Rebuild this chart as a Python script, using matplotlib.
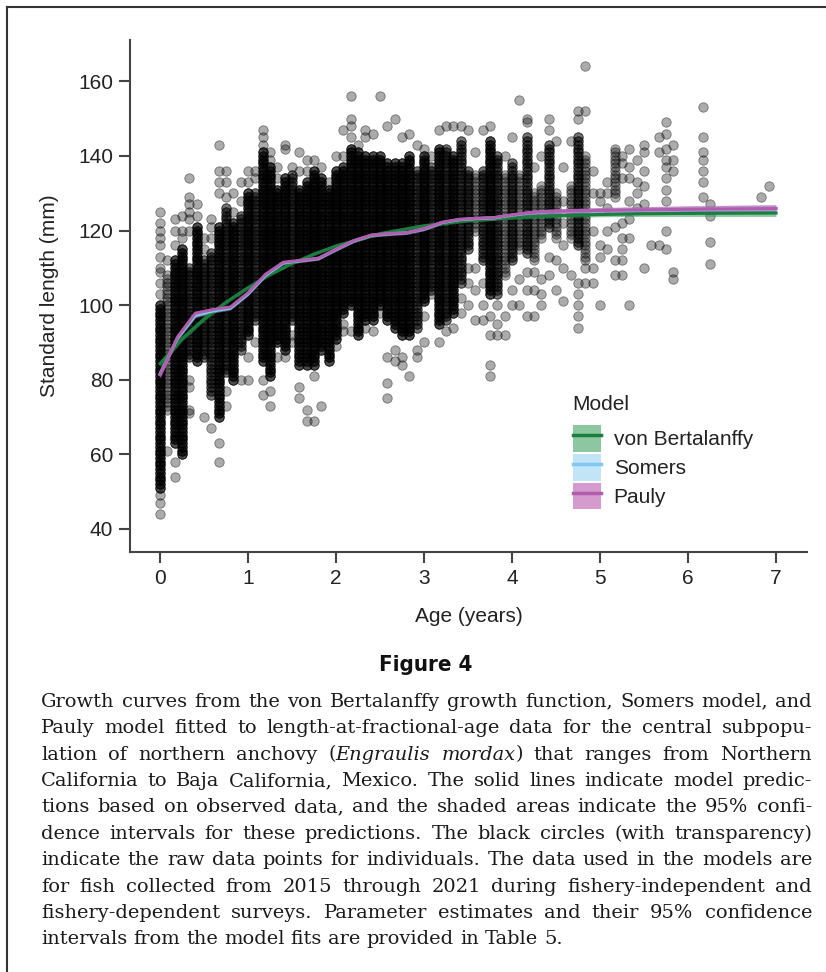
import numpy as np
import matplotlib
matplotlib.use("Agg")
import matplotlib.pyplot as plt
from matplotlib.patches import Patch
from matplotlib.lines import Line2D

plt.rcParams['font.family'] = ['Liberation Sans', 'DejaVu Sans']

W, H = 826, 972

# raw data: ages are whole months (k/12 years)
# dense part of each monthly column: lowest and highest length (mm), and how crowded it is
core_month = [0, 1, 2, 3, 4, 5, 6, 7, 8, 9, 10, 11, 12, 13, 14, 15, 16, 17, 18, 19,
              20, 21, 22, 23, 24, 25, 26, 27, 28, 29, 30, 31, 32, 33, 34, 35, 36, 37, 38, 39,
              40, 41, 42, 43, 44, 45, 46, 47, 48, 49, 50, 51, 52, 53, 54, 56, 57, 58, 62]
core_lo = [51, 72, 63, 60, 86, 85, 86, 76, 70, 82, 80, 88, 92, 96, 85, 81, 90, 88, 96, 84,
           84, 84, 88, 85, 91, 98, 100, 92, 96, 96, 100, 96, 94, 92, 92, 94, 101, 104, 95, 96,
           98, 106, 115, 120, 112, 103, 103, 108, 112, 115, 114, 112, 118, 121, 118, 118, 116, 112, 129]
core_hi = [100, 108, 112, 115, 110, 121, 112, 114, 121, 126, 122, 124, 130, 130, 141, 137, 131, 134, 135, 131,
           133, 136, 134, 131, 136, 137, 142, 141, 140, 140, 140, 138, 138, 138, 140, 136, 140, 137, 142, 142,
           140, 144, 136, 135, 136, 144, 140, 135, 138, 135, 145, 130, 132, 143, 130, 132, 145, 140, 142]
core_depth = [3, 1, 3, 3, 2, 3, 2, 2, 3, 2, 3, 2, 3, 2, 3, 3, 3, 3, 2, 3,
              3, 3, 3, 3, 3, 3, 3, 3, 3, 3, 3, 3, 3, 3, 3, 2, 3, 2, 3, 2,
              3, 2, 2, 1, 2, 3, 2, 1, 2, 1, 2, 1, 1, 2, 1, 1, 2, 1, 1]

# isolated fish outside the dense parts, by month
outliers = {
    0: [49, 47, 44, 103, 106, 109, 110, 113, 116, 118, 120, 122, 125],
    1: [61, 112], 2: [58, 54, 116, 120, 123], 3: [118, 120, 124],
    4: [120, 123, 125, 127, 129, 134, 80, 78, 72, 71], 5: [124, 127],
    6: [115, 118, 70], 7: [118, 121, 123, 67], 8: [130, 133, 136, 143, 63, 58],
    9: [129, 133, 136, 77, 73], 10: [125, 130], 11: [128, 133, 80],
    12: [133, 136, 86, 80], 13: [134, 136, 90], 14: [143, 145, 147, 80, 76],
    15: [139, 141, 77, 73], 16: [134, 137, 86], 17: [142, 143, 86],
    18: [137, 90, 92], 19: [136, 141, 78, 75], 20: [136, 139, 72, 69],
    21: [139, 81, 69], 22: [137, 73], 23: [133], 24: [140, 89],
    25: [140, 147, 93, 95], 26: [145, 148, 150, 156, 93], 27: [143],
    28: [145, 147, 94], 29: [146, 93], 30: [156, 98], 31: [148, 86, 79, 75],
    32: [150, 88, 85], 33: [145, 86, 84], 34: [146, 81], 35: [143, 88, 86],
    36: [142, 97, 90], 37: [140, 103], 38: [147, 90], 39: [148, 93],
    40: [148, 94], 41: [148, 102, 98], 42: [147, 110, 106, 100],
    43: [141, 110, 104, 96], 44: [147, 106, 100, 96], 45: [148, 97, 92, 84, 81],
    46: [100, 95, 92], 47: [140, 97, 92], 48: [145, 104, 100], 49: [155, 107, 100],
    50: [150, 149, 109, 104, 97], 51: [137, 109, 104, 97], 52: [140, 107, 103, 100],
    53: [150, 147, 113, 108], 54: [144, 112, 104], 55: [137, 128, 122, 116, 110, 101],
    56: [144, 108], 57: [152, 150, 106, 103, 100, 97, 94], 58: [164, 152, 110, 106],
    59: [136, 130, 120, 110, 106], 60: [130, 128, 116, 113, 100],
    61: [133, 130, 126, 120, 115], 62: [121, 112, 108],
    63: [140, 138, 134, 122, 118, 115, 112, 108], 64: [142, 137, 134, 128, 123, 118, 100],
    65: [139, 133, 130, 126], 66: [143, 141, 136, 132, 127, 110], 67: [116],
    68: [145, 141, 116], 69: [149, 146, 142, 139, 137, 134, 131, 128, 120, 115],
    70: [143, 139, 136, 109, 107], 74: [153, 145, 141, 139, 136, 133, 129],
    75: [127, 124, 117, 111], 82: [129], 83: [132],
}

# model predictions
vb_age = [0, 0.25, 0.5, 0.75, 1, 1.25, 1.5, 1.75, 2, 2.5, 3, 3.5, 4, 4.5, 5, 5.5, 6, 6.5, 7]
vb_len = [84.3, 91.0, 96.3, 100.8, 104.7, 108.2, 111.2, 113.7, 115.9, 119.2, 121.3, 122.7,
          123.5, 124.0, 124.3, 124.5, 124.6, 124.65, 124.7]
vb_ci = [0.9, 0.7, 0.6, 0.5, 0.45, 0.4, 0.4, 0.4, 0.4, 0.4, 0.4, 0.45, 0.5, 0.55, 0.6, 0.7, 0.8, 0.85, 0.9]

sp_age = [0, 0.2, 0.4, 0.6, 0.8, 1.0, 1.2, 1.4, 1.6, 1.8, 2.0, 2.2, 2.4, 2.6, 2.8, 3.0,
          3.2, 3.4, 3.6, 3.8, 4.0, 4.2, 4.4, 5.0, 6.0, 7.0]
somers_len = [81.6, 91.2, 97.2, 98.4, 99.2, 103.0, 108.0, 111.3, 111.9, 112.5, 114.9, 117.2,
              118.7, 119.1, 119.4, 120.4, 122.1, 122.9, 123.2, 123.4, 124.1, 124.7, 125.0,
              125.3, 125.6, 125.8]
pauly_len = [81.3, 91.5, 97.8, 98.8, 99.5, 103.3, 108.3, 111.5, 112.0, 112.6, 115.0, 117.3,
             118.8, 119.2, 119.4, 120.5, 122.2, 123.0, 123.3, 123.5, 124.2, 124.8, 125.1,
             125.4, 125.7, 125.9]
sp_ci = [1.0, 0.7, 0.6, 0.5, 0.5, 0.5, 0.45, 0.45, 0.45, 0.45, 0.45, 0.45, 0.45, 0.45, 0.45,
         0.45, 0.5, 0.5, 0.5, 0.55, 0.6, 0.65, 0.7, 0.8, 0.95, 1.05]

models = ['von Bertalanffy', 'Somers', 'Pauly']
line_cols = ['#1b7d3e', '#80c8ee', '#b25cad']
fill_cols = ['#2f9a57', '#8fd0f0', '#b44aa6']

fig = plt.figure(figsize=(W / 100, H / 100), dpi=100)
ax = fig.add_axes([130 / W, 1 - 552 / H, 677 / W, 512 / H])

xs, ys = [], []
for m, lo, hi, d in zip(core_month, core_lo, core_hi, core_depth):
    L = np.arange(lo, hi + 1)
    xs += [m / 12] * (len(L) * d)
    ys += list(np.tile(L, d))
for m, vals in outliers.items():
    xs += [m / 12] * len(vals)
    ys += vals
ax.scatter(xs, ys, s=46, facecolor=(0, 0, 0, 0.33), edgecolor=(0, 0, 0, 0.45),
           linewidth=0.6, zorder=2)

vb = np.array(vb_len); vbc = np.array(vb_ci)
som = np.array(somers_len); pau = np.array(pauly_len); spc = np.array(sp_ci)
ax.fill_between(vb_age, vb - vbc, vb + vbc, color=fill_cols[0], alpha=0.55, lw=0, zorder=3)
ax.fill_between(sp_age, som - spc, som + spc, color=fill_cols[1], alpha=0.5, lw=0, zorder=3)
ax.fill_between(sp_age, pau - spc, pau + spc, color=fill_cols[2], alpha=0.55, lw=0, zorder=3)
ax.plot(vb_age, vb, color=line_cols[0], lw=2.2, zorder=4)
ax.plot(sp_age, som, color=line_cols[1], lw=2.2, zorder=4)
ax.plot(sp_age, pau, color=line_cols[2], lw=2.2, zorder=4)

ax.set_xlim(-0.341, 7.352)
ax.set_ylim(33.8, 171.1)
ax.set_xticks(range(8))
ax.set_yticks(range(40, 161, 20))
for s in ['top', 'right']:
    ax.spines[s].set_visible(False)
for s in ['left', 'bottom']:
    ax.spines[s].set_color('#444444')
    ax.spines[s].set_linewidth(1.5)
ax.tick_params(length=8, width=1.5, color='#444444', labelsize=15, labelcolor='#222222', pad=4)
ax.set_xlabel('Age (years)', fontsize=15, color='#222222', labelpad=14)
ax.set_ylabel('Standard length (mm)', fontsize=15, color='#222222', labelpad=14)

# legend: title as its own text, then patch+line keys
fig.text(572 / W, 1 - 410 / H, 'Model', fontsize=15, color='#222222', va='baseline')
handles = [(Patch(facecolor=fc, alpha=0.55, edgecolor='none'), Line2D([], [], color=lc, lw=2.5))
           for fc, lc in zip(fill_cols, line_cols)]
leg = fig.legend(handles, models, loc='upper left', bbox_to_anchor=(573 / W, 1 - 425 / H),
                 frameon=False, fontsize=15, handlelength=1.35, handleheight=1.6,
                 labelspacing=0.1, handletextpad=0.6, borderpad=0, borderaxespad=0)
for t in leg.get_texts():
    t.set_color('#222222')

# frame around figure and caption
fig.add_artist(Line2D([7 / W, 7 / W], [0, 1 - 7 / H], color='#333333', lw=1.5))
fig.add_artist(Line2D([7 / W, 1], [1 - 7 / H, 1 - 7 / H], color='#333333', lw=1.5))

fig.text(426 / W, 1 - 671 / H, 'Figure 4', fontsize=16, fontweight='bold',
         family='DejaVu Sans', fontstretch='condensed', ha='center', va='baseline',
         color='#111111')

cap_lines = [
    "Growth curves from the von Bertalanffy growth function, Somers model, and",
    "Pauly model fitted to length-at-fractional-age data for the central subpopu-",
    "lation of northern anchovy (_Engraulis_ _mordax_) that ranges from Northern",
    "California to Baja California, Mexico. The solid lines indicate model predic-",
    "tions based on observed data, and the shaded areas indicate the 95% confi-",
    "dence intervals for these predictions. The black circles (with transparency)",
    "indicate the raw data points for individuals. The data used in the models are",
    "for fish collected from 2015 through 2021 during fishery-independent and",
    "fishery-dependent surveys. Parameter estimates and their 95% confidence",
    "intervals from the model fits are provided in Table 5.",
]
cap_left, cap_right = 41, 812
last_right = 562
r = fig.canvas.get_renderer()


def seg_w(s, style, size):
    if not s:
        return 0.0
    t = fig.text(0, 0, s, fontsize=size, family='DejaVu Serif', style=style)
    w = t.get_window_extent(r).width
    t.remove()
    return w


def word_segs(word):
    parts = word.split('_')
    return [(p, 'italic' if i % 2 else 'normal') for i, p in enumerate(parts)]


def line_w(words, size):
    return [sum(seg_w(p, st, size) for p, st in word_segs(w)) for w in words]


# font size: the last (unjustified) line should end where it does in the figure
lw10 = line_w(cap_lines[-1].split(' '), 10)
sp10 = seg_w('a a', 'normal', 10) - 2 * seg_w('a', 'normal', 10)
size = 10 * (last_right - cap_left) / (sum(lw10) + sp10 * (len(lw10) - 1))

for i, line in enumerate(cap_lines):
    words = line.split(' ')
    widths = line_w(words, size)
    if i < len(cap_lines) - 1:
        gap = max(2.0, (cap_right - cap_left - sum(widths)) / (len(words) - 1))
    else:
        gap = sp10 * size / 10
    x = cap_left
    yb = 1 - (706.7 + 26.4 * i) / H
    for w, ww in zip(words, widths):
        xx = x
        for p, st in word_segs(w):
            if p:
                fig.text(xx / W, yb, p, fontsize=size, family='DejaVu Serif', style=st,
                         va='baseline', ha='left', color='#1a1a1a')
                xx += seg_w(p, st, size)
        x += ww + gap

fig.savefig('out.png', dpi=100)
